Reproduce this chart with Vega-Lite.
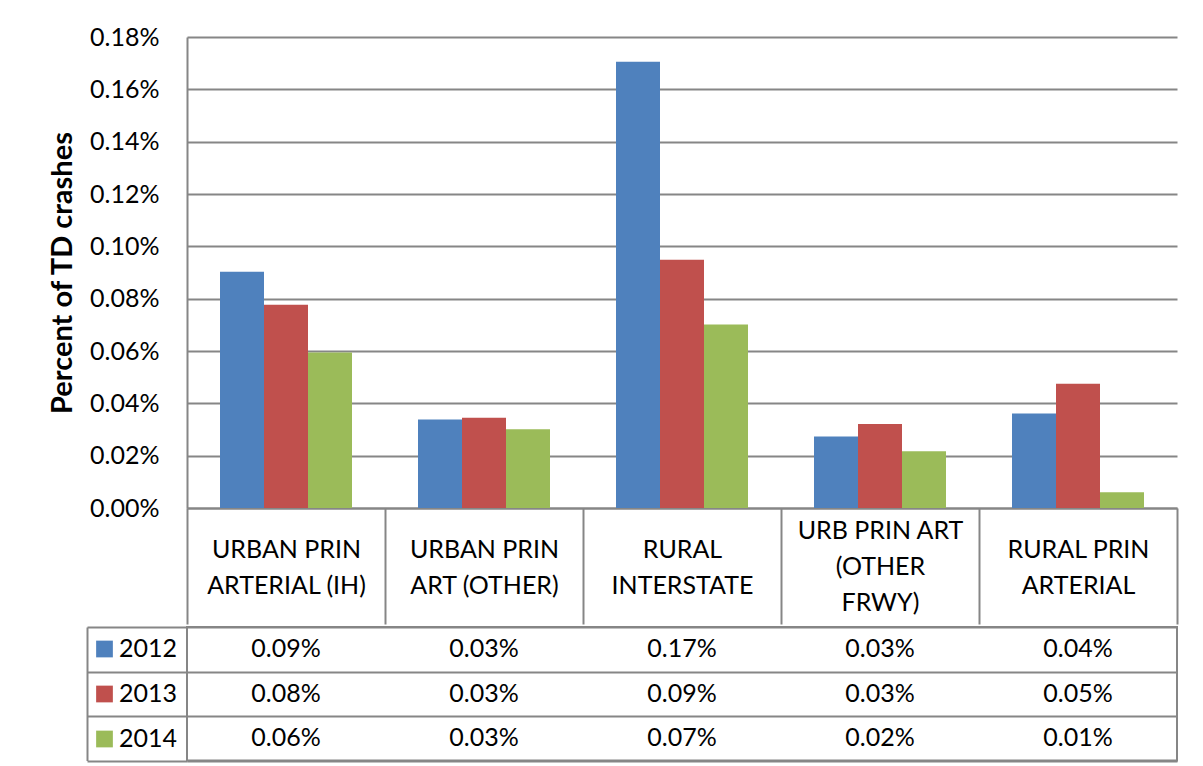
{
  "$schema": "https://vega.github.io/schema/vega-lite/v6.json",
  "padding": {"left": 48, "top": 25, "right": 5, "bottom": 5},
  "background": "white",
  "config": {
    "font": "Lato",
    "view": {"stroke": null},
    "concat": {"spacing": 0}
  },
  "data": {
    "values": [
      {"category": "URBAN PRIN ARTERIAL (IH)", "year": "2012", "value": 0.000903},
      {"category": "URBAN PRIN ARTERIAL (IH)", "year": "2013", "value": 0.000777},
      {"category": "URBAN PRIN ARTERIAL (IH)", "year": "2014", "value": 0.000594},
      {"category": "URBAN PRIN ART (OTHER)", "year": "2012", "value": 0.000338},
      {"category": "URBAN PRIN ART (OTHER)", "year": "2013", "value": 0.000345},
      {"category": "URBAN PRIN ART (OTHER)", "year": "2014", "value": 0.000301},
      {"category": "RURAL INTERSTATE", "year": "2012", "value": 0.001705},
      {"category": "RURAL INTERSTATE", "year": "2013", "value": 0.000949},
      {"category": "RURAL INTERSTATE", "year": "2014", "value": 0.000701},
      {"category": "URB PRIN ART (OTHER FRWY)", "year": "2012", "value": 0.000273},
      {"category": "URB PRIN ART (OTHER FRWY)", "year": "2013", "value": 0.000321},
      {"category": "URB PRIN ART (OTHER FRWY)", "year": "2014", "value": 0.000217},
      {"category": "RURAL PRIN ARTERIAL", "year": "2012", "value": 0.000361},
      {"category": "RURAL PRIN ARTERIAL", "year": "2013", "value": 0.000475},
      {"category": "RURAL PRIN ARTERIAL", "year": "2014", "value": 0.00006}
    ]
  },
  "spacing": 0,
  "resolve": {"legend": {"color": "independent"}},
  "vconcat": [
    {
      "width": 990,
      "height": 471,
      "mark": {"type": "bar"},
      "encoding": {
        "x": {
          "field": "category",
          "type": "nominal",
          "sort": ["URBAN PRIN ARTERIAL (IH)", "URBAN PRIN ART (OTHER)", "RURAL INTERSTATE", "URB PRIN ART (OTHER FRWY)", "RURAL PRIN ARTERIAL"],
          "scale": {"paddingInner": 0, "paddingOuter": 0},
          "axis": {
            "title": null,
            "labelAngle": 0,
            "labelFont": "Lato",
            "labelFontSize": 25,
            "labelColor": "black",
            "labelLineHeight": 36,
            "labelBaseline": "middle",
            "labelAlign": "center",
            "labelPadding": {"condition": {"test": "datum.value == 'URB PRIN ART (OTHER FRWY)'", "value": -93.4}, "value": -74.4},
            "labelLimit": 400,
            "labelOverlap": false,
            "labelFlush": false,
            "labelExpr": "datum.value == 'URBAN PRIN ARTERIAL (IH)' ? ['URBAN PRIN', 'ARTERIAL (IH)'] : datum.value == 'URBAN PRIN ART (OTHER)' ? ['URBAN PRIN', 'ART (OTHER)'] : datum.value == 'RURAL INTERSTATE' ? ['RURAL', 'INTERSTATE'] : datum.value == 'URB PRIN ART (OTHER FRWY)' ? ['URB PRIN ART', '(OTHER', 'FRWY)'] : datum.value == 'RURAL PRIN ARTERIAL' ? ['RURAL PRIN', 'ARTERIAL'] : ''",
            "tickBand": "extent",
            "tickSize": 116,
            "tickColor": "#868686",
            "tickWidth": 2,
            "domainColor": "#868686",
            "domainWidth": 2,
            "grid": false
          }
        },
        "xOffset": {"field": "year", "type": "nominal", "scale": {"paddingInner": 0, "paddingOuter": 0.75}},
        "y": {
          "field": "value",
          "type": "quantitative",
          "scale": {"domain": [0, 0.0018], "nice": false},
          "axis": {
            "title": "Percent of TD crashes",
            "format": ".2%",
            "values": [0, 0.0002, 0.0004, 0.0006, 0.0008, 0.001, 0.0012, 0.0014, 0.0016, 0.0018],
            "grid": true,
            "gridColor": "#868686",
            "gridWidth": 2,
            "ticks": false,
            "tickSize": 0,
            "labelPadding": 28,
            "labelFont": "Lato",
            "labelFontSize": 25,
            "labelColor": "black",
            "domainColor": "#868686",
            "domainWidth": 2,
            "titleFont": "Lato",
            "titleFontSize": 29,
            "titleFontWeight": "bold",
            "titleColor": "black",
            "titlePadding": 12
          }
        },
        "color": {
          "field": "year",
          "type": "nominal",
          "scale": {"domain": ["2012", "2013", "2014"], "range": ["#4F81BD", "#C0504D", "#9BBB59"]},
          "legend": null
        }
      }
    },
    {
      "width": 990,
      "height": 133.5,
      "view": {"stroke": "#868686", "strokeWidth": 2},
      "resolve": {"axis": {"y": "independent"}},
      "layer": [
        {
          "mark": {"type": "text", "font": "Lato", "fontSize": 25, "fill": "black", "align": "center", "baseline": "middle"},
          "encoding": {
            "x": {
              "field": "category",
              "type": "nominal",
              "sort": ["URBAN PRIN ARTERIAL (IH)", "URBAN PRIN ART (OTHER)", "RURAL INTERSTATE", "URB PRIN ART (OTHER FRWY)", "RURAL PRIN ARTERIAL"],
              "axis": {
                "title": null,
                "labels": false,
                "ticks": false,
                "domain": false,
                "grid": true,
                "tickBand": "extent",
                "gridColor": "#868686",
                "gridWidth": 2
              }
            },
            "y": {
              "field": "year",
              "type": "nominal",
              "axis": {
                "title": null,
                "labels": false,
                "domain": false,
                "grid": true,
                "tickBand": "extent",
                "gridColor": "#868686",
                "gridWidth": 2,
                "ticks": true,
                "tickSize": 100,
                "tickColor": "#868686",
                "tickWidth": 2
              }
            },
            "text": {"field": "value", "type": "quantitative", "format": ".2%"}
          }
        },
        {
          "mark": {"type": "point", "shape": "square", "filled": true, "size": 0},
          "encoding": {
            "x": {
              "field": "category",
              "type": "nominal",
              "sort": ["URBAN PRIN ARTERIAL (IH)", "URBAN PRIN ART (OTHER)", "RURAL INTERSTATE", "URB PRIN ART (OTHER FRWY)", "RURAL PRIN ARTERIAL"],
              "axis": null
            },
            "y": {
              "field": "year",
              "type": "nominal",
              "axis": {
                "orient": "left",
                "offset": 100,
                "title": null,
                "labels": false,
                "ticks": false,
                "grid": false,
                "domain": true,
                "domainColor": "#868686",
                "domainWidth": 2
              }
            },
            "color": {
              "field": "year",
              "type": "nominal",
              "legend": {
                "orient": "none",
                "legendX": -95,
                "legendY": 9.5,
                "title": null,
                "direction": "vertical",
                "symbolType": "square",
                "symbolSize": 280,
                "symbolStrokeWidth": 0,
                "symbolOpacity": 1,
                "labelFont": "Lato",
                "labelFontSize": 25,
                "labelColor": "black",
                "labelOffset": 2,
                "rowPadding": 19,
                "padding": 0
              }
            }
          }
        }
      ]
    }
  ]
}
